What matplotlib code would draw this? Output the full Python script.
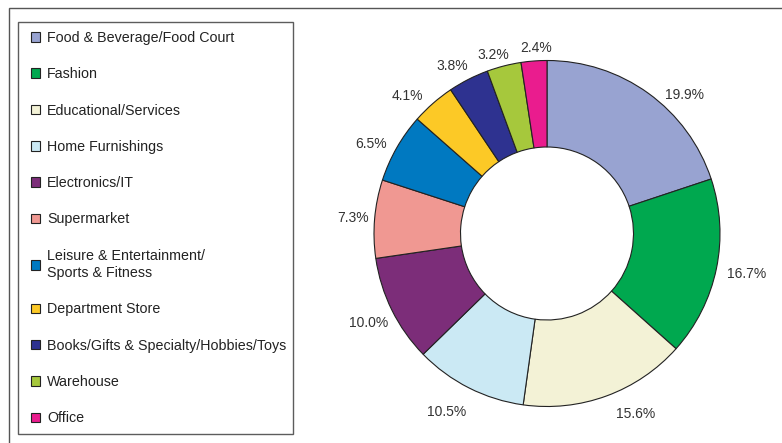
import numpy as np
import matplotlib.pyplot as plt
from matplotlib.patches import Rectangle
from matplotlib.legend_handler import HandlerPatch

categories = [
    'Food & Beverage/Food Court',
    'Fashion',
    'Educational/Services',
    'Home Furnishings',
    'Electronics/IT',
    'Supermarket',
    'Leisure & Entertainment/\nSports & Fitness',
    'Department Store',
    'Books/Gifts & Specialty/Hobbies/Toys',
    'Warehouse',
    'Office',
]
shares = [19.9, 16.7, 15.6, 10.5, 10.0, 7.3, 6.5, 4.1, 3.8, 3.2, 2.4]
colors = ['#98a3d1', '#00a84f', '#f3f2d6', '#cbe9f4', '#7c2d79', '#f09892',
          '#0079c1', '#fcc926', '#2e3290', '#a6c83c', '#ea1c8e']

plt.rcParams['font.family'] = ['Liberation Sans', 'DejaVu Sans']

W, H = 782, 443
fig = plt.figure(figsize=(W / 100, H / 100), dpi=100)

# outer frame, only left and top edges fall inside the image
fig.add_artist(Rectangle((9 / W, -0.1), 1.2, (H - 8) / H + 0.1,
                         transform=fig.transFigure, fill=False,
                         edgecolor='#555555', linewidth=1.0))

# donut
cx, cy, r = 547, 233.5, 173
ax = fig.add_axes([(cx - r) / W, (H - cy - r) / H, 2 * r / W, 2 * r / H])
wedges, texts = ax.pie(shares, colors=colors, startangle=90, counterclock=False,
                       radius=1.0, labels=['%.1f%%' % v for v in shares],
                       wedgeprops=dict(width=0.5, edgecolor='#222222', linewidth=0.8),
                       textprops=dict(fontsize=10, color='#333333'))
ax.set_xlim(-1, 1)
ax.set_ylim(-1, 1)
ax.set_aspect('equal')

# value labels sit around the ring, spread out a little where slices are thin
label_at = [(45.3, 1.13), (-11.5, 1.18), (-63.9, 1.16), (-119.3, 1.18),
            (-153.4, 1.15), (175.3, 1.125), (153.1, 1.14), (135.4, 1.135),
            (119.5, 1.115), (106.7, 1.075), (93.3, 1.075)]
for t, (a, d) in zip(texts, label_at):
    t.set_ha('center')
    t.set_va('center')
    t.set_position((d * np.cos(np.radians(a)), d * np.sin(np.radians(a))))


# square swatch pushed to the right end of the handle box
def square_swatch(legend, orig_handle, xdescent, ydescent, width, height, fontsize):
    return Rectangle((-xdescent + width - height, -ydescent), height, height)


# legend on the left
handles = [Rectangle((0, 0), 1, 1, facecolor=c, edgecolor='#222222', linewidth=0.8)
           for c in colors]
leg = fig.legend(handles, categories, loc='upper left',
                 bbox_to_anchor=(18 / W, (H - 22) / H, (293 - 18) / W, 0),
                 mode='expand', fontsize=10.3, frameon=True, fancybox=False,
                 handlelength=0.92, handleheight=0.64, handletextpad=0.5,
                 labelspacing=1.56, borderpad=0.62, borderaxespad=0,
                 handler_map={Rectangle: HandlerPatch(patch_func=square_swatch)})
leg.get_frame().set_edgecolor('#333333')
leg.get_frame().set_linewidth(1.0)
for t in leg.get_texts():
    t.set_color('#222222')
    t.set_linespacing(1.3)

fig.savefig('out.png', dpi=100)
